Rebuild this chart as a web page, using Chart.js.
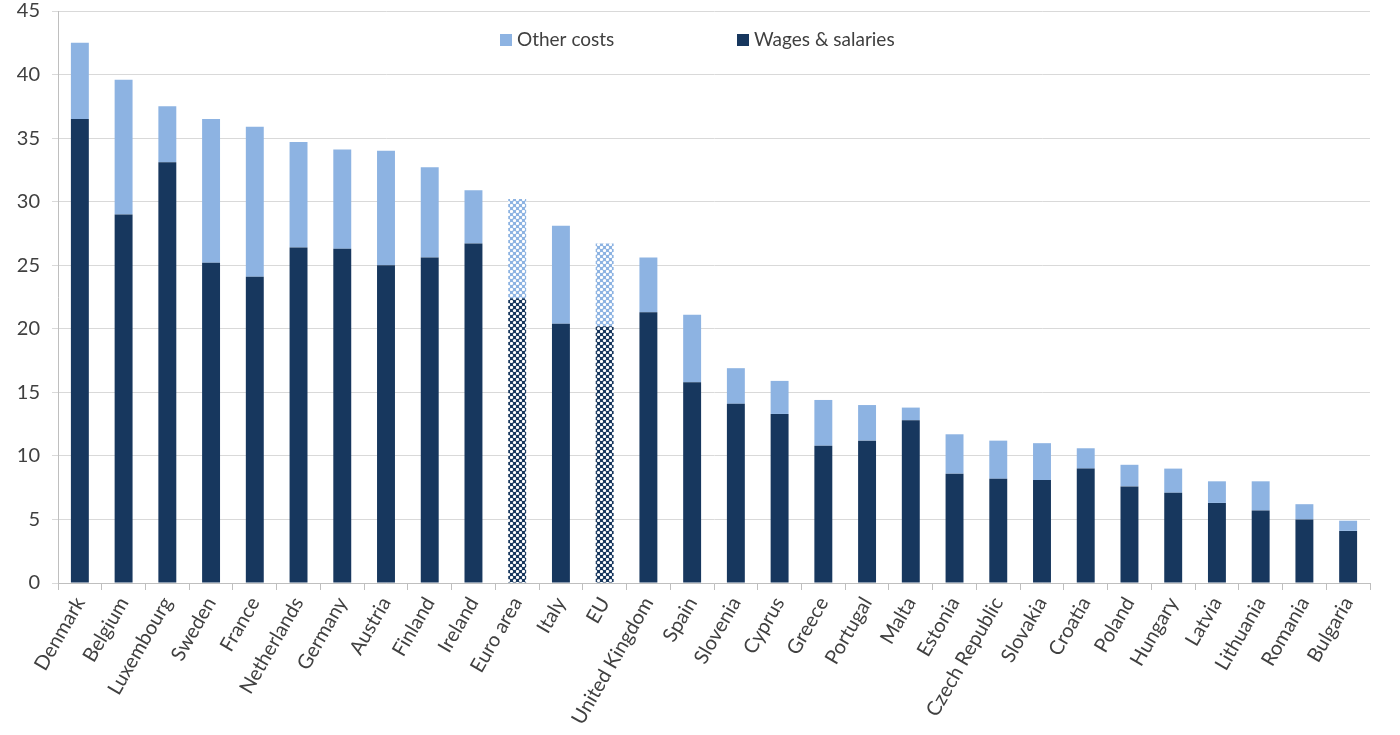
<!DOCTYPE html>
<html lang="en">
<head>
<meta charset="UTF-8">
<title>Labour costs</title>
<script src="https://cdn.jsdelivr.net/npm/chart.js"></script>
<style>
  html, body { margin: 0; padding: 0; background: #fff; }
  .grafica { width: 1400px; height: 735px; }
</style>
</head>
<body>
<div class="grafica">
  <canvas id="myChart"></canvas>
</div>
<script>
// categories (countries + aggregates)
const paises = ['Denmark', 'Belgium', 'Luxembourg', 'Sweden', 'France', 'Netherlands', 'Germany',
  'Austria', 'Finland', 'Ireland', 'Euro area', 'Italy', 'EU', 'United Kingdom', 'Spain',
  'Slovenia', 'Cyprus', 'Greece', 'Portugal', 'Malta', 'Estonia', 'Czech Republic', 'Slovakia',
  'Croatia', 'Poland', 'Hungary', 'Latvia', 'Lithuania', 'Romania', 'Bulgaria'];
// wages & salaries
const salarios = [36.5, 29.0, 33.1, 25.2, 24.1, 26.4, 26.3, 25.0, 25.6, 26.7, 22.4, 20.4, 20.2, 21.3,
  15.8, 14.1, 13.3, 10.8, 11.2, 12.8, 8.6, 8.2, 8.1, 9.0, 7.6, 7.1, 6.3, 5.7, 5.0, 4.1];
// other costs (on top of wages)
const otrosCostos = [6.0, 10.6, 4.4, 11.3, 11.8, 8.3, 7.8, 9.0, 7.1, 4.2, 7.8, 7.7, 6.5, 4.3,
  5.3, 2.8, 2.6, 3.6, 2.8, 1.0, 3.1, 3.0, 2.9, 1.6, 1.7, 1.9, 1.7, 2.3, 1.2, 0.8];
const ticksY = [0, 5, 10, 15, 20, 25, 30, 35, 40, 45];
const agregados = ['Euro area', 'EU'];

const colorSalarios = '#17375e';
const colorOtros = '#8db3e2';
const fuente = 'Lato, "Open Sans", sans-serif';

/* patron de cuadritos para los agregados */
function patron(color) {
  const c = document.createElement('canvas');
  c.width = 6; c.height = 6;
  const ctx = c.getContext('2d');
  ctx.fillStyle = color;
  ctx.fillRect(0, 0, 6, 6);
  ctx.fillStyle = '#ffffff';
  [[1.5, 1.5], [4.5, 4.5]].forEach(([x, y]) => {
    ctx.beginPath();
    ctx.arc(x, y, 1.6, 0, Math.PI * 2);
    ctx.fill();
  });
  return ctx.createPattern(c, 'repeat');
}

function colores(color) {
  const pat = patron(color);
  return paises.map(p => agregados.includes(p) ? pat : color);
}

/* leyenda dibujada dentro del area del grafico */
const leyendaInterna = {
  id: 'leyendaInterna',
  afterDraw(chart) {
    const ctx = chart.ctx;
    const items = [
      { x: 500, label: 'Other costs', color: colorOtros },
      { x: 737, label: 'Wages & salaries', color: colorSalarios }
    ];
    ctx.save();
    ctx.font = '19px ' + fuente;
    ctx.textBaseline = 'middle';
    items.forEach(it => {
      ctx.fillStyle = it.color;
      ctx.fillRect(it.x, 34, 12, 12);
      ctx.fillStyle = '#404040';
      ctx.fillText(it.label, it.x + 17, 40);
    });
    ctx.restore();
  }
};

const config = {
  type: 'bar',
  data: {
    labels: paises,
    datasets: [
      { label: 'Wages & salaries', data: salarios, backgroundColor: colores(colorSalarios) },
      { label: 'Other costs', data: otrosCostos, backgroundColor: colores(colorOtros) }
    ]
  },
  options: {
    responsive: true,
    maintainAspectRatio: false,
    animation: false,
    layout: { padding: { top: 0, right: 30, left: 14, bottom: 0 } },
    datasets: { bar: { barPercentage: 0.41, categoryPercentage: 1 } },
    plugins: { legend: { display: false }, tooltip: { enabled: false } },
    scales: {
      x: {
        stacked: true,
        grid: { display: true, drawOnChartArea: false, color: '#bfbfbf', tickLength: 7, offset: true },
        border: { color: '#bfbfbf' },
        ticks: { color: '#404040', font: { family: fuente, size: 20 }, minRotation: 60, maxRotation: 60, autoSkip: false },
        afterFit: (axis) => { axis.height = 152; axis.paddingLeft = 0; axis.paddingRight = 0; }
      },
      y: {
        stacked: true,
        min: 0, max: 45,
        afterBuildTicks: (axis) => { axis.ticks = ticksY.map(v => ({ value: v })); },
        grid: { color: '#d9d9d9', tickLength: 6 },
        border: { color: '#bfbfbf' },
        ticks: { color: '#404040', font: { family: fuente, size: 20 }, padding: 12 },
        afterFit: (axis) => { axis.width = 44; axis.paddingTop = 11; axis.paddingBottom = 0; }
      }
    }
  },
  plugins: [leyendaInterna]
};

new Chart(document.getElementById('myChart'), config);
</script>
</body>
</html>
